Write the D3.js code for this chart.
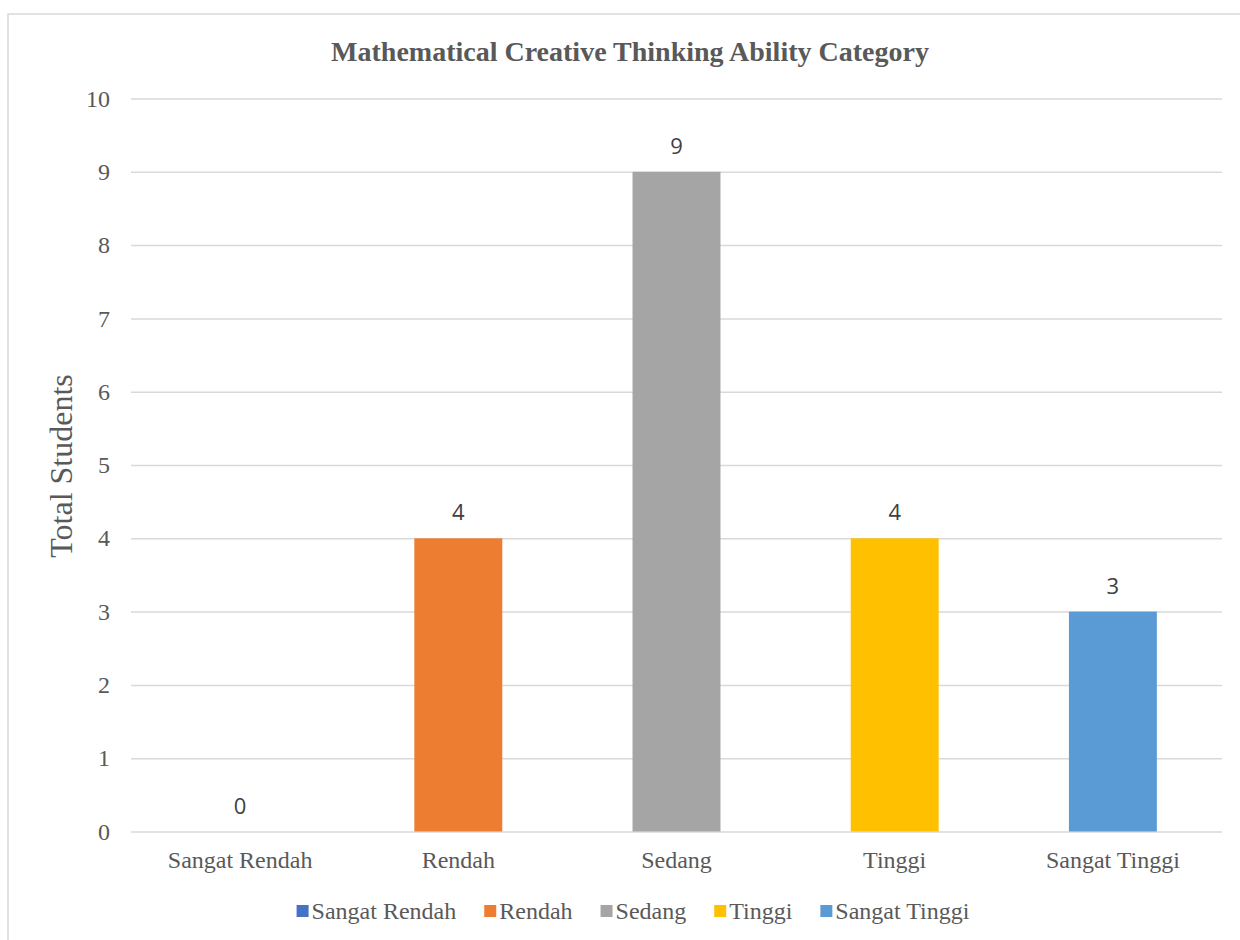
<!DOCTYPE html>
<html>
<head>
<meta charset="utf-8">
<script src="https://cdn.jsdelivr.net/npm/d3@7"></script>
<style>
  body { margin: 0; background: #fff; }
</style>
</head>
<body>
<svg id="chart" width="1240" height="940"></svg>
<script>
const categories = ['Sangat Rendah', 'Rendah', 'Sedang', 'Tinggi', 'Sangat Tinggi'];
const values = [0, 4, 9, 4, 3];
const colors = ['#4472c4', '#ed7d31', '#a5a5a5', '#ffc000', '#5b9bd5'];
const yTicks = [0, 1, 2, 3, 4, 5, 6, 7, 8, 9, 10];

const serif = '"Liberation Serif", "Times New Roman", serif';
const textColor = '#595959';

const svg = d3.select('#chart');
const margin = { left: 131, right: 18, top: 98.5, bottom: 108.5 };
const width = 1240, height = 940;
const innerWidth = width - margin.left - margin.right;
const innerHeight = height - margin.top - margin.bottom;

// chart frame (runs off the right and bottom edge like the original)
svg.append('path')
  .attr('d', 'M8,940 V14 H1240')
  .attr('fill', 'none')
  .attr('stroke', '#d9d9d9')
  .attr('stroke-width', 1.5);

svg.append('text')
  .attr('x', 630).attr('y', 61)
  .attr('text-anchor', 'middle')
  .attr('font-family', serif)
  .attr('font-weight', 'bold')
  .attr('font-size', 28)
  .attr('fill', textColor)
  .text('Mathematical Creative Thinking Ability Category');

const body = svg.append('g')
  .attr('transform', 'translate(' + margin.left + ',' + margin.top + ')');

const x = d3.scaleBand().domain(categories).range([0, innerWidth]);
const y = d3.scaleLinear().domain([0, 10]).range([innerHeight, 0]);

const yAxis = d3.axisLeft(y).tickValues(yTicks).tickSize(-innerWidth).tickPadding(21);
const yg = body.append('g').call(yAxis);
yg.select('.domain').remove();
yg.selectAll('.tick line').attr('stroke', '#d9d9d9').attr('stroke-width', 1.5);
yg.selectAll('.tick text')
  .attr('font-family', serif)
  .attr('font-size', 24)
  .attr('fill', textColor);

const xAxis = d3.axisBottom(x).tickSize(0).tickPadding(19);
const xg = body.append('g')
  .attr('transform', 'translate(0,' + innerHeight + ')')
  .call(xAxis);
xg.select('.domain').remove();
xg.selectAll('.tick text')
  .attr('font-family', serif)
  .attr('font-size', 24)
  .attr('fill', textColor);

const barW = x.bandwidth() * 0.403;

body.selectAll('.bar')
  .data(values)
  .enter()
  .append('rect')
  .attr('class', 'bar')
  .attr('x', (d, i) => x(categories[i]) + (x.bandwidth() - barW) / 2)
  .attr('y', d => y(d))
  .attr('width', barW)
  .attr('height', d => innerHeight - y(d))
  .attr('fill', (d, i) => colors[i]);

body.selectAll('.label')
  .data(values)
  .enter()
  .append('text')
  .attr('class', 'label')
  .attr('x', (d, i) => x(categories[i]) + x.bandwidth() / 2)
  .attr('y', d => y(d) - 18)
  .attr('text-anchor', 'middle')
  .attr('font-family', '"Open Sans", "Liberation Sans", sans-serif')
  .attr('font-size', 22)
  .attr('fill', '#404040')
  .text(d => d);

// y axis title
svg.append('text')
  .attr('transform', 'translate(72,466) rotate(-90)')
  .attr('text-anchor', 'middle')
  .attr('font-family', serif)
  .attr('font-size', 32)
  .attr('fill', textColor)
  .text('Total Students');

// legend
const legend = svg.append('g');
let cx = 0;
categories.forEach((c, i) => {
  const item = legend.append('g').attr('transform', 'translate(' + cx + ',0)');
  item.append('rect')
    .attr('x', 0).attr('y', -14)
    .attr('width', 12).attr('height', 12)
    .attr('fill', colors[i]);
  const t = item.append('text')
    .attr('x', 15).attr('y', 0)
    .attr('font-family', serif)
    .attr('font-size', 24)
    .attr('fill', textColor)
    .text(c);
  cx += 15 + t.node().getComputedTextLength() + 28;
});
const legendW = cx - 28;
legend.attr('transform', 'translate(' + (633 - legendW / 2) + ',919)');
</script>
</body>
</html>
